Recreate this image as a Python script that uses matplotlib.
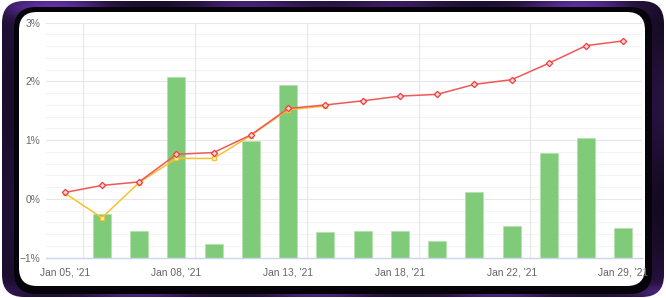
import numpy as np
import matplotlib
matplotlib.use("Agg")
import matplotlib.pyplot as plt
from matplotlib.patches import FancyBboxPatch

# ---------------- data ----------------
dates = ["Jan 05, '21", "Jan 06, '21", "Jan 07, '21", "Jan 08, '21", "Jan 11, '21",
         "Jan 12, '21", "Jan 13, '21", "Jan 14, '21", "Jan 15, '21", "Jan 18, '21",
         "Jan 19, '21", "Jan 20, '21", "Jan 22, '21", "Jan 25, '21", "Jan 27, '21",
         "Jan 29, '21"]
# daily bars (percent), first day has none
daily = [np.nan, -0.25, -0.54, 2.08, -0.77, 0.98, 1.94, -0.57, -0.54, -0.54,
         -0.72, 0.12, -0.46, 0.78, 1.03, -0.49]
cum_red = [0.11, 0.23, 0.29, 0.76, 0.79, 1.09, 1.54, 1.60, 1.67, 1.75,
           1.78, 1.95, 2.03, 2.31, 2.61, 2.69]
cum_yellow = [0.10, -0.32, 0.28, 0.69, 0.69, 1.08, 1.52, 1.58]
ytick_vals = [-1, 0, 1, 2, 3]
ytick_labels = ["\u22121%", "0%", "1%", "2%", "3%"]
xlabel_idx = [0, 3, 6, 9, 12, 15]

W, H = 666, 298
fig = plt.figure(figsize=(W / 100, H / 100), dpi=100)
fig.patch.set_facecolor("white")

# ---------------- decorative frame ----------------
bg = fig.add_axes([0, 0, 1, 1])
bg.set_xlim(0, W)
bg.set_ylim(H, 0)
bg.axis("off")
gx = np.linspace(0, 1, 200)
gy = np.linspace(0, 1, 100)
GX, GY = np.meshgrid(gx, gy)
tex = (0.3 + 0.2 * np.sin(GX * 23) * np.cos(GY * 9)
       + 0.45 * np.exp(-((GY - 0.02) / 0.04) ** 2) * (0.6 + 0.4 * np.sin(GX * 17))
       + 0.3 * np.exp(-((GY - 0.985) / 0.03) ** 2))
cmap = matplotlib.colors.LinearSegmentedColormap.from_list("p", ["#0b0612", "#2a1445", "#6b36b4"])
outer = FancyBboxPatch((2, 1), W - 4, H - 2, boxstyle="round,pad=0,rounding_size=22",
                       fc="none", ec="none")
bg.add_patch(outer)
im = bg.imshow(tex, extent=(0, W, H, 0), cmap=cmap, aspect="auto", zorder=0, vmin=0, vmax=1)
im.set_clip_path(outer)
black = FancyBboxPatch((14, 7), W - 28, H - 11, boxstyle="round,pad=0,rounding_size=22",
                       fc="#06030a", ec="none", zorder=1)
bg.add_patch(black)
white = FancyBboxPatch((19, 12), 626, 274, boxstyle="round,pad=0,rounding_size=18",
                       fc="white", ec="none", zorder=2)
bg.add_patch(white)

# ---------------- chart ----------------
ax = fig.add_axes([46 / W, 1 - 257.7 / H, (642 - 46) / W, (257.7 - 22.7) / H])
ax.set_facecolor("none")
x = np.arange(len(dates))
ax.set_xlim(-0.5, len(dates) - 0.5)
ax.set_ylim(-1, 3)

for v in np.arange(-1, 3.01, 0.2):
    major = abs(v - round(v)) < 1e-6
    ax.axhline(v, color="#e6e6e6" if major else "#f3f3f3", lw=0.8, zorder=0)
for i in xlabel_idx[:-1]:
    ax.axvline(i + 0.5, color="#e6e6e6", lw=0.8, zorder=0)

bars_v = np.array(daily, dtype=float)
ax.bar(x, bars_v + 1, bottom=-1, width=0.48, color="#80cb79", edgecolor="#b5e2b0",
       linewidth=0.6, zorder=2)

ax.plot(x[:len(cum_yellow)], cum_yellow, color="#fbc02d", lw=1.1, marker="s", ms=3,
        mfc="#fff3c4", mec="#fbc02d", mew=0.9, zorder=3)
ax.plot(x, cum_red, color="#f05858", lw=1.1, marker="D", ms=3.2,
        mfc="#ffd6d6", mec="#f03c3c", mew=0.9, zorder=4)

for s in ["top", "right", "left"]:
    ax.spines[s].set_visible(False)
ax.spines["bottom"].set_color("#ccd6eb")
ax.spines["bottom"].set_linewidth(1)
ax.spines["bottom"].set_zorder(5)

ax.set_yticks(ytick_vals)
ax.set_yticklabels(ytick_labels)
ax.set_xticks(xlabel_idx)
ax.set_xticklabels([dates[i] for i in xlabel_idx])
ax.tick_params(axis="both", length=0, labelsize=7.4, labelcolor="#666666")
ax.tick_params(axis="x", pad=7)
ax.tick_params(axis="y", pad=4)
for t in ax.get_xticklabels() + ax.get_yticklabels():
    t.set_family(["Liberation Sans", "DejaVu Sans"])

fig.savefig("out.png", dpi=100)
